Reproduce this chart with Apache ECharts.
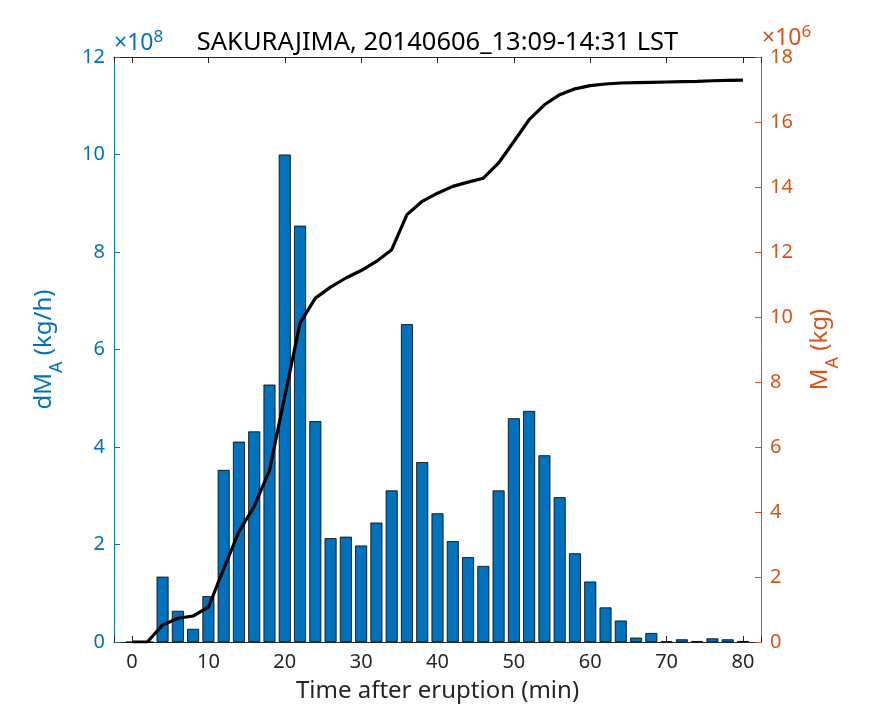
<!DOCTYPE html>
<html>
<head>
<meta charset="utf-8">
<script src="https://cdn.jsdelivr.net/npm/echarts@6/dist/echarts.min.js"></script>
<style>html,body{margin:0;padding:0;background:#fff}#c{width:875px;height:723px}</style>
</head>
<body>
<div id="c"></div>
<script>
// Time after eruption (min), bin centres
var times = [0,2,4,6,8,10,12,14,16,18,20,22,24,26,28,30,32,34,36,38,40,42,44,46,48,50,52,54,56,58,60,62,64,66,68,70,72,74,76,78,80];
// dM_A (x10^8 kg/h)
var rateValues = [0,0,1.34,0.64,0.27,0.94,3.53,4.11,4.32,5.28,10.0,8.54,4.53,2.13,2.16,1.98,2.45,3.11,6.52,3.69,2.64,2.07,1.74,1.56,3.11,4.59,4.74,3.83,2.97,1.82,1.24,0.71,0.44,0.09,0.185,0.015,0.055,0.02,0.075,0.055,0.02];
// M_A cumulative (x10^6 kg)
var massValues = [0,0,0.52,0.73,0.80,1.07,2.25,3.40,4.17,5.28,7.56,9.81,10.58,10.92,11.20,11.43,11.71,12.07,13.15,13.56,13.81,14.02,14.15,14.27,14.74,15.40,16.07,16.53,16.84,17.02,17.12,17.17,17.20,17.21,17.22,17.23,17.24,17.25,17.27,17.28,17.29];
var leftTicks = [0,2,4,6,8,10,12];
var rightTicks = [0,2,4,6,8,10,12,14,16,18];
var xTicks = [0,10,20,30,40,50,60,70,80];

var FONT = 'Noto Sans';
var BLUE = '#0072BD', ORANGE = '#D95319', DARK = '#262626';
var chart = echarts.init(document.getElementById('c'));
var barData = times.map(function(t,i){return [t, rateValues[i]];});
var lineData = times.map(function(t,i){return [t, massValues[i]];});
function isTick(v){ return xTicks.some(function(t){return Math.abs(t-v)<1e-6;}); }

chart.setOption({
  animation:false,
  textStyle:{fontFamily:FONT},
  title:{text:'SAKURAJIMA, 20140606_13:09-14:31 LST', left:'center', top:25,
    textStyle:{fontFamily:FONT, fontSize:25.5, fontWeight:'normal', color:'#000'}},
  grid:{left:114, right:114, top:57, bottom:81},
  xAxis:[{
    type:'value', min:-2.36, max:82.36, minInterval:10, maxInterval:10, position:'bottom',
    name:'Time after eruption (min)', nameLocation:'middle', nameGap:37,
    nameTextStyle:{fontFamily:FONT, fontSize:24, color:DARK},
    axisLine:{show:true, onZero:false, lineStyle:{color:DARK, width:1}},
    axisTick:{inside:true, length:6, lineStyle:{color:DARK}},
    axisLabel:{fontFamily:FONT, fontSize:20, color:DARK, margin:10,
      formatter:function(v){return isTick(v)? String(Math.round(v)) : '';}},
    splitLine:{show:false}
  },{
    type:'value', min:-2.36, max:82.36, minInterval:10, maxInterval:10, position:'top',
    axisLine:{show:true, onZero:false, lineStyle:{color:DARK, width:1}},
    axisTick:{inside:true, length:6, lineStyle:{color:DARK}},
    axisLabel:{show:false}, splitLine:{show:false}
  }],
  yAxis:[{
    type:'value', min:0, max:12, interval:2, position:'left',
    name:'{a|dM}{s|A}{a| (kg/h)}', nameLocation:'middle', nameGap:48, nameRotate:90,
    nameTextStyle:{color:BLUE, rich:{
      a:{fontFamily:FONT, fontSize:24, color:BLUE},
      s:{fontFamily:FONT, fontSize:18, color:BLUE, padding:[26,0,0,0]}}},
    axisLine:{show:true, onZero:false, lineStyle:{color:BLUE, width:1}},
    axisTick:{inside:true, length:6, lineStyle:{color:BLUE}},
    axisLabel:{fontFamily:FONT, fontSize:20, color:BLUE, margin:9},
    splitLine:{show:false}
  },{
    type:'value', min:0, max:18, interval:2, position:'right',
    name:'{a|M}{s|A}{a| (kg)}', nameLocation:'middle', nameGap:37, nameRotate:90,
    nameTextStyle:{color:ORANGE, rich:{
      a:{fontFamily:FONT, fontSize:24, color:ORANGE},
      s:{fontFamily:FONT, fontSize:18, color:ORANGE, padding:[26,0,0,0]}}},
    axisLine:{show:true, onZero:false, lineStyle:{color:ORANGE, width:1}},
    axisTick:{inside:true, length:6, lineStyle:{color:ORANGE}},
    axisLabel:{fontFamily:FONT, fontSize:20, color:ORANGE, margin:9},
    splitLine:{show:false}
  }],
  graphic:[
    {type:'text', left:114, top:29, style:{text:'{a|×10}{s|8}', rich:{
      a:{fontFamily:FONT, fontSize:23, fill:BLUE},
      s:{fontFamily:FONT, fontSize:17, fill:BLUE, padding:[0,0,12,0]}}}},
    {type:'text', left:762, top:24, style:{text:'{a|×10}{s|6}', rich:{
      a:{fontFamily:FONT, fontSize:23, fill:ORANGE},
      s:{fontFamily:FONT, fontSize:17, fill:ORANGE, padding:[0,0,12,0]}}}}
  ],
  series:[{
    type:'bar', xAxisIndex:0, yAxisIndex:0, data:barData, barWidth:12,
    itemStyle:{color:BLUE, borderColor:'#000', borderWidth:0.8}
  },{
    type:'line', xAxisIndex:0, yAxisIndex:1, data:lineData, showSymbol:false, symbol:'none',
    lineStyle:{color:'#000', width:3.2}, z:5
  }]
});
</script>
</body>
</html>
